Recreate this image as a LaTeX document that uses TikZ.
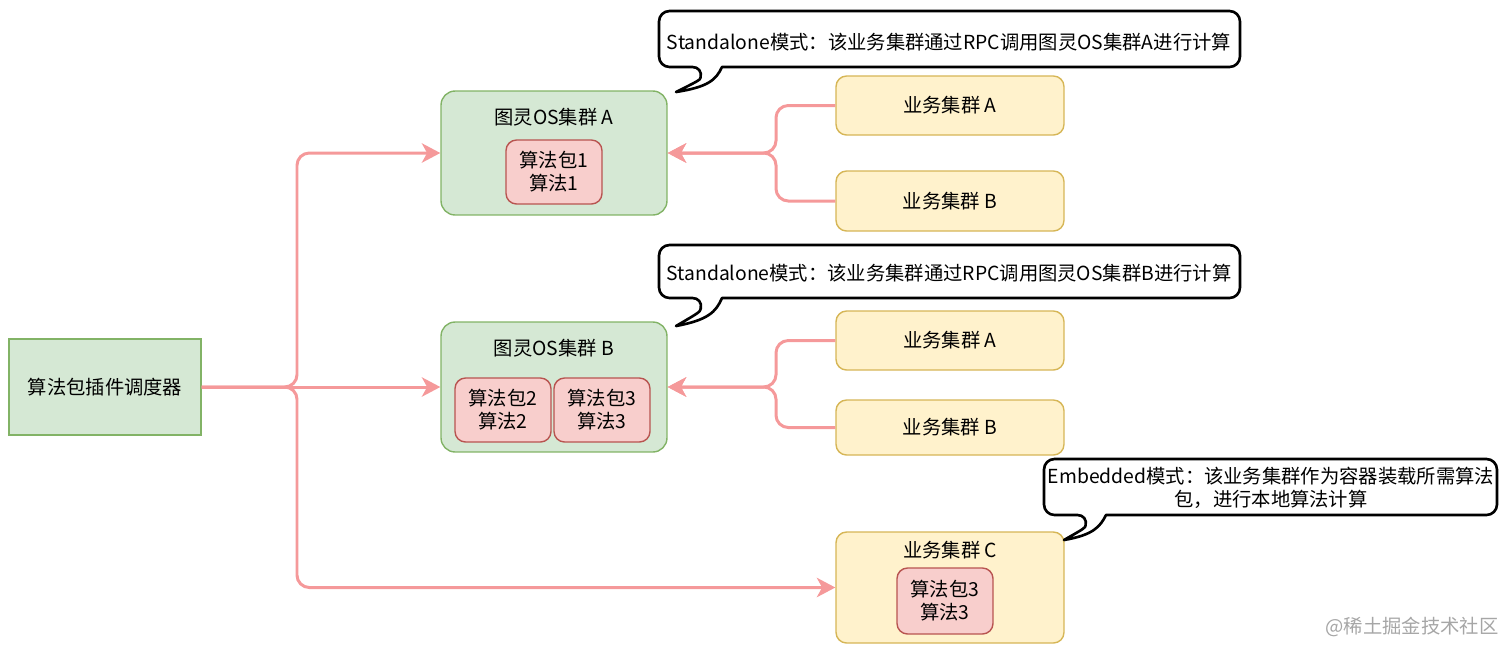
\documentclass[tikz,border=0pt]{standalone}
\usepackage{fontspec}
\setmainfont{Noto Sans CJK SC}
\usetikzlibrary{arrows.meta}
\definecolor{grfill}{HTML}{D5E8D4}
\definecolor{grline}{HTML}{82B366}
\definecolor{rdfill}{HTML}{F8CECC}
\definecolor{rdline}{HTML}{B85450}
\definecolor{ylfill}{HTML}{FFF2CC}
\definecolor{ylline}{HTML}{D6B656}
\definecolor{flowcol}{HTML}{F5999A}
\begin{document}
\begin{tikzpicture}[x=0.02cm, y=-0.02cm,
		font=\fontsize{11}{13}\selectfont,
		sched/.style={draw=grline, fill=grfill, line width=0.8pt, minimum width=3.84cm, minimum height=1.92cm},
		cluster/.style={draw=grline, fill=grfill, line width=0.8pt, rounded corners=8pt, minimum width=4.52cm},
		pkg/.style={draw=rdline, fill=rdfill, line width=0.8pt, rounded corners=6pt, minimum width=1.92cm, minimum height=1.28cm, align=center, inner sep=1pt},
		biz/.style={draw=ylline, fill=ylfill, line width=0.8pt, rounded corners=6pt, minimum width=4.56cm},
		flow/.style={draw=flowcol, line width=1.7pt, rounded corners=7pt, -{Stealth[length=10.5pt, width=11pt, inset=3pt]}},
		bubble/.style={draw=black, fill=white, line width=1.5pt, line join=round}]
	\useasboundingbox (0,0) rectangle (1512,657);

	\node[sched] (sched) at (105,387) {算法包插件调度器};

	\node[cluster, minimum height=2.48cm] (osA) at (554,153) {};
	\node (osAtitle) at (554,117) {图灵OS集群 A};
	\node[pkg] (pkgA) at (554,172) {算法包1\\算法1};

	\node[cluster, minimum height=2.6cm] (osB) at (554,387) {};
	\node (osBtitle) at (554,348) {图灵OS集群 B};
	\node[pkg] (pkgB2) at (503,410) {算法包2\\算法2};
	\node[pkg] (pkgB3) at (602,410) {算法包3\\算法3};

	\node[biz, minimum height=1.18cm] (bizA1) at (950,105.5) {业务集群 A};
	\node[biz, minimum height=1.2cm] (bizB1) at (950,201) {业务集群 B};
	\node[biz, minimum height=1.18cm] (bizA2) at (950,340.5) {业务集群 A};
	\node[biz, minimum height=1.1cm] (bizB2) at (950,427.5) {业务集群 B};

	\node[biz, minimum height=2.22cm] (bizC) at (950,587.5) {};
	\node (bizCtitle) at (950,550) {业务集群 C};
	\node[pkg, minimum height=1.32cm] (pkgC) at (945,601) {算法包3\\算法3};

	\coordinate (split) at (297,387);
	\draw[flow] (sched.east) -- (split) |- (osA.west);
	\draw[flow] (sched.east) -- (osB.west);
	\draw[flow] (sched.east) -- (split) |- (bizC.west);

	\coordinate (joinA) at (776,153);
	\draw[flow] (bizA1.west) -| (joinA) -- (osA.east);
	\draw[flow] (bizB1.west) -| (joinA) -- (osA.east);
	\coordinate (joinB) at (776,387);
	\draw[flow] (bizA2.west) -| (joinB) -- (osB.east);
	\draw[flow] (bizB2.west) -| (joinB) -- (osB.east);

	\draw[bubble, rounded corners=6pt] (722,67) -- (1240,67) -- (1240,11) -- (659,11) -- (659,67) -- (703,67)
		[sharp corners] .. controls (700,80) .. (676,92) .. controls (708,87) and (716,80) .. (722,67) -- cycle;
	\node (noteA) at (949,42) {Standalone模式：该业务集群通过RPC调用图灵OS集群A进行计算};

	\draw[bubble, rounded corners=6pt] (722,298) -- (1240,298) -- (1240,245) -- (659,245) -- (659,298) -- (703,298)
		[sharp corners] .. controls (700,312) .. (676,326) .. controls (708,320) and (716,312) .. (722,298) -- cycle;
	\node (noteB) at (949,273) {Standalone模式：该业务集群通过RPC调用图灵OS集群B进行计算};

	\draw[bubble, rounded corners=6pt] (1106,515) -- (1497,515) -- (1497,459) -- (1044,459) -- (1044,515) -- (1088,515)
		[sharp corners] .. controls (1085,528) .. (1064,540) .. controls (1093,535) and (1100,527) .. (1106,515) -- cycle;
	\node[align=center, inner sep=0pt] (noteC) at (1271,488) {Embedded模式：该业务集群作为容器装载所需算法\\包，进行本地算法计算};

	\node[text=black!35] (mark) at (1412,627) {@稀土掘金技术社区};
\end{tikzpicture}
\end{document}
